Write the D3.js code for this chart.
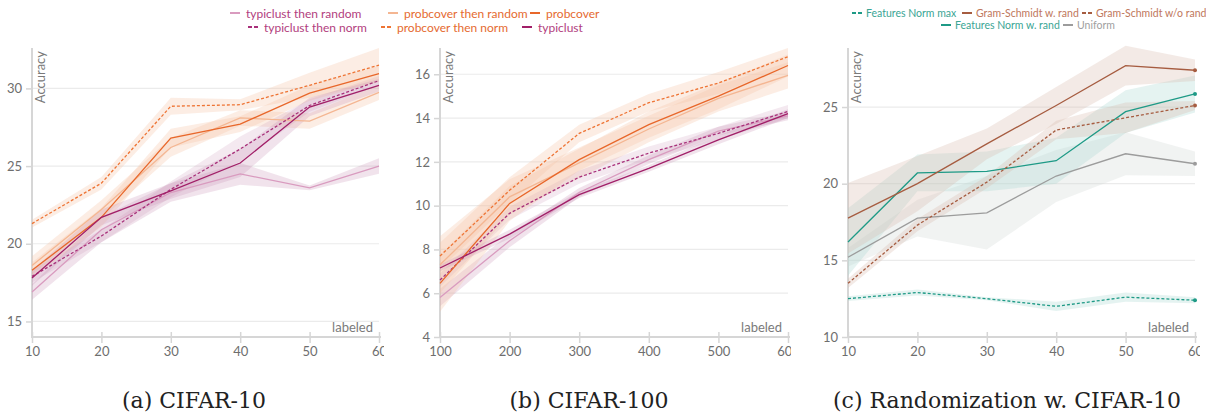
<!DOCTYPE html>
<html>
<head>
<meta charset="utf-8">
<script src="https://cdn.jsdelivr.net/npm/d3@7"></script>
<style>
  body { margin: 0; background: #fff; }
  text { font-family: Lato, "Open Sans", sans-serif; }
</style>
</head>
<body>
<div id="chart"></div>
<script>
// ---------------- data ----------------
var labeled10 = [10, 20, 30, 40, 50, 60];
var labeled100 = [100, 200, 300, 400, 500, 600];

// (a) CIFAR-10
var c10TypiclustRandom = [16.9, 20.9, 23.3, 24.5, 23.6, 25.0];
var c10TypiclustRandomStd = [0.5, 0.8, 0.6, 0.7, 0.15, 0.5];
var c10TypiclustNorm = [17.9, 20.5, 23.5, 26.1, 28.9, 30.5];
var c10TypiclustNormStd = [0.4, 0.4, 0.5, 0.8, 0.4, 0.3];
var c10ProbcoverRandom = [18.6, 22.2, 26.2, 28.1, 27.9, 29.75];
var c10ProbcoverRandomStd = [0.6, 0.6, 0.6, 0.5, 0.5, 0.5];
var c10ProbcoverNorm = [21.3, 23.9, 28.85, 28.95, 30.2, 31.5];
var c10ProbcoverNormStd = [0.25, 0.4, 0.55, 0.35, 0.8, 1.1];
var c10Probcover = [18.3, 21.7, 26.8, 27.7, 29.7, 30.95];
var c10ProbcoverStd = [0.5, 0.6, 0.6, 0.5, 0.5, 0.5];
var c10Typiclust = [17.8, 21.7, 23.4, 25.2, 28.8, 30.2];
var c10TypiclustStd = [0.5, 0.5, 0.5, 0.9, 0.6, 0.4];

// (b) CIFAR-100
var c100TypiclustRandom = [5.8, 8.4, 10.6, 12.1, 13.4, 14.1];
var c100TypiclustRandomStd = [0.4, 0.3, 0.2, 0.2, 0.2, 0.2];
var c100TypiclustNorm = [6.6, 9.65, 11.3, 12.4, 13.3, 14.3];
var c100TypiclustNormStd = [0.3, 0.3, 0.3, 0.3, 0.3, 0.3];
var c100ProbcoverRandom = [7.3, 10.4, 11.95, 13.5, 14.9, 15.95];
var c100ProbcoverRandomStd = [1.3, 0.8, 0.7, 0.6, 0.6, 0.6];
var c100ProbcoverNorm = [7.7, 10.7, 13.3, 14.7, 15.6, 16.8];
var c100ProbcoverNormStd = [0.6, 0.6, 0.4, 0.4, 0.5, 0.4];
var c100Probcover = [6.45, 10.1, 12.1, 13.7, 15.0, 16.4];
var c100ProbcoverStd = [1.3, 0.8, 0.5, 0.6, 0.6, 0.5];
var c100Typiclust = [7.15, 8.7, 10.5, 11.7, 13.0, 14.2];
var c100TypiclustStd = [0.15, 0.2, 0.15, 0.15, 0.2, 0.2];

// (c) Randomization w. CIFAR-10
var rndFeatNormMax = [12.5, 12.9, 12.5, 12.0, 12.6, 12.4];
var rndFeatNormMaxStd = [0.15, 0.2, 0.1, 0.3, 0.3, 0.2];
var rndGramRand = [17.75, 20.0, 22.6, 25.1, 27.7, 27.4];
var rndGramRandStd = [2.3, 1.8, 1.0, 1.2, 1.3, 0.7];
var rndGramNoRand = [13.5, 17.3, 20.1, 23.5, 24.3, 25.1];
var rndGramNoRandStd = [0.3, 0.4, 0.4, 0.6, 1.0, 0.3];
var rndFeatNormRand = [16.2, 20.7, 20.8, 21.5, 24.7, 25.85];
var rndFeatNormRandStd = [2.2, 1.2, 1.3, 1.5, 1.4, 1.2];
var rndUniform = [15.2, 17.75, 18.1, 20.5, 21.95, 21.3];
var rndUniformStd = [0.6, 1.2, 2.4, 1.7, 1.4, 0.8];

var captions = ["(a) CIFAR-10", "(b) CIFAR-100", "(c) Randomization w. CIFAR-10"];

// ---------------- styles ----------------
var magDark = "#a11f68", magNorm = "#a8307a", magLight = "#d99bbf";
var orDark = "#e8672a", orNorm = "#ee7434", orLight = "#f4b692";
var teal = "#1e9a86", brown = "#a65c40", grey = "#9c9c9c";

var svg = d3.select("#chart").append("svg")
    .attr("width", 1206)
    .attr("height", 415);

function translate(x, y) {
    return `translate(${x}, ${y})`;
}

function panel(opt) {
    var g = svg.append("g");
    var clipId = "clip" + opt.id;
    svg.append("defs").append("clipPath").attr("id", clipId)
        .append("rect")
        .attr("x", opt.left - 40).attr("y", 0)
        .attr("width", opt.clipRight - opt.left + 40).attr("height", 370);
    g.attr("clip-path", `url(#${clipId})`);

    var x = d3.scaleLinear().domain(opt.xDomain).range([opt.left, opt.right]);
    var y = d3.scaleLinear().domain(opt.yDomain).range([337, 48]);

    // grid
    g.append("g").selectAll("line")
        .data(opt.yTicks).enter().append("line")
        .attr("x1", opt.left).attr("x2", opt.right)
        .attr("y1", d => y(d)).attr("y2", d => y(d))
        .attr("stroke", "#ebebeb").attr("stroke-width", 1.2);

    // y axis
    var yAxis = d3.axisLeft(y).tickValues(opt.yTicks).tickSize(6).tickPadding(4);
    var ya = g.append("g").attr("transform", translate(opt.left, 0)).call(yAxis);
    ya.select(".domain").remove();
    ya.selectAll(".tick line").attr("stroke", "#d6d6d6").attr("stroke-width", 1.5);
    ya.selectAll(".tick text").attr("fill", "#6e6e6e").style("font-size", "13px")
        .style("font-family", "Lato, sans-serif");
    g.append("line")
        .attr("x1", opt.left).attr("x2", opt.left)
        .attr("y1", 48).attr("y2", 338)
        .attr("stroke", "#d6d6d6").attr("stroke-width", 2);

    // x axis
    var xAxis = d3.axisBottom(x).tickValues(opt.xTicks).tickSize(6).tickPadding(4);
    var xa = g.append("g").attr("transform", translate(0, 337)).call(xAxis);
    xa.select(".domain").remove();
    xa.selectAll(".tick line").attr("stroke", "#d6d6d6").attr("stroke-width", 1.5).attr("y1", -5);
    xa.selectAll(".tick text").attr("fill", "#6e6e6e").style("font-size", "13px")
        .style("font-family", "Lato, sans-serif");
    g.append("line")
        .attr("x1", opt.left - 1).attr("x2", opt.right + 2)
        .attr("y1", 337).attr("y2", 337)
        .attr("stroke", "#d6d6d6").attr("stroke-width", 2);

    // bands
    var area = d3.area()
        .x((d, i) => x(opt.xs[i]))
        .y0(d => y(d[0] - d[1]))
        .y1(d => y(d[0] + d[1]));
    var line = d3.line()
        .x((d, i) => x(opt.xs[i]))
        .y(d => y(d));

    opt.series.forEach(function (s) {
        g.append("path")
            .datum(s.values.map((v, i) => [v, s.std[i]]))
            .attr("d", area)
            .attr("fill", s.band)
            .attr("fill-opacity", s.bandOpacity);
    });
    opt.series.forEach(function (s) {
        g.append("path")
            .datum(s.values)
            .attr("d", line)
            .attr("fill", "none")
            .attr("stroke", s.color)
            .attr("stroke-width", 1.3)
            .attr("stroke-dasharray", s.dashed ? "3,2" : null);
        if (opt.endDots) {
            var n = s.values.length - 1;
            g.append("circle")
                .attr("cx", x(opt.xs[n])).attr("cy", y(s.values[n]))
                .attr("r", 2).attr("fill", s.color);
        }
    });

    // labels
    g.append("text")
        .attr("transform", translate(opt.left + 13, 51) + " rotate(-90)")
        .attr("text-anchor", "end")
        .attr("fill", "#7a7a7a")
        .style("font-size", "13px")
        .text("Accuracy");
    g.append("text")
        .attr("x", opt.right - 6).attr("y", 332)
        .attr("text-anchor", "end")
        .attr("fill", "#7a7a7a")
        .style("font-size", "13px")
        .text("labeled");

    // legend
    var lg = svg.append("g").selectAll("g")
        .data(opt.legend).enter().append("g")
        .attr("transform", d => translate(d.x, d.y));
    lg.append("line")
        .attr("x1", 0).attr("x2", 10).attr("y1", 0).attr("y2", 0)
        .attr("stroke", d => d.s.color)
        .attr("stroke-width", 2)
        .attr("stroke-dasharray", d => d.s.dashed ? "4,2" : null);
    lg.append("text")
        .attr("x", opt.legendGap).attr("y", 0)
        .attr("dominant-baseline", "central")
        .attr("fill", d => d.s.text)
        .style("font-size", opt.legendSize)
        .text(d => d.s.name);

    // caption
    svg.append("text")
        .attr("x", opt.captionX).attr("y", 408)
        .attr("text-anchor", "middle")
        .style("font-family", "'DejaVu Serif', serif")
        .style("font-size", "22px")
        .attr("fill", "#222")
        .text(opt.caption);
}

var tcText = "#b2407e", pcText = "#e56a30";
var magBand = "#c98fb5", orBand = "#f6c4a4";

function cifarSeries(d) {
    return {
        tr: { name: "typiclust then random", values: d[0], std: d[1], color: magLight, band: magBand, bandOpacity: 0.25, text: tcText },
        tn: { name: "typiclust then norm", values: d[2], std: d[3], color: magNorm, dashed: true, band: magBand, bandOpacity: 0.2, text: tcText },
        pr: { name: "probcover then random", values: d[4], std: d[5], color: orLight, band: orBand, bandOpacity: 0.3, text: pcText },
        pn: { name: "probcover then norm", values: d[6], std: d[7], color: orNorm, dashed: true, band: orBand, bandOpacity: 0.3, text: pcText },
        p: { name: "probcover", values: d[8], std: d[9], color: orDark, band: orBand, bandOpacity: 0.3, text: pcText },
        t: { name: "typiclust", values: d[10], std: d[11], color: magDark, band: magBand, bandOpacity: 0.25, text: tcText }
    };
}

var sa = cifarSeries([c10TypiclustRandom, c10TypiclustRandomStd, c10TypiclustNorm, c10TypiclustNormStd,
    c10ProbcoverRandom, c10ProbcoverRandomStd, c10ProbcoverNorm, c10ProbcoverNormStd,
    c10Probcover, c10ProbcoverStd, c10Typiclust, c10TypiclustStd]);
var sb = cifarSeries([c100TypiclustRandom, c100TypiclustRandomStd, c100TypiclustNorm, c100TypiclustNormStd,
    c100ProbcoverRandom, c100ProbcoverRandomStd, c100ProbcoverNorm, c100ProbcoverNormStd,
    c100Probcover, c100ProbcoverStd, c100Typiclust, c100TypiclustStd]);

panel({
    id: "a", left: 32, right: 379, clipRight: 384,
    xDomain: [10, 60], yDomain: [14, 32.6], xs: labeled10,
    xTicks: labeled10, yTicks: [15, 20, 25, 30],
    series: [sa.tr, sa.pr, sa.pn, sa.tn, sa.p, sa.t],
    legendSize: "12px", legendGap: 16,
    legend: [
        { s: sa.tr, x: 230, y: 13 }, { s: sa.pr, x: 388, y: 13 }, { s: sa.p, x: 530, y: 13 },
        { s: sa.tn, x: 248, y: 27 }, { s: sa.pn, x: 381, y: 27 }, { s: sa.t, x: 522, y: 27 }
    ],
    caption: captions[0], captionX: 194
});

panel({
    id: "b", left: 440, right: 788, clipRight: 791,
    xDomain: [100, 600], yDomain: [4, 17.2], xs: labeled100,
    xTicks: labeled100, yTicks: [4, 6, 8, 10, 12, 14, 16],
    series: [sb.tr, sb.pr, sb.pn, sb.tn, sb.p, sb.t],
    legend: [],
    caption: captions[1], captionX: 589
});

var sc = {
    fm: { name: "Features Norm max", values: rndFeatNormMax, std: rndFeatNormMaxStd, color: teal, dashed: true, band: "#a8d8cf", bandOpacity: 0.3, text: "#3aa594" },
    gr: { name: "Gram-Schmidt w. rand", values: rndGramRand, std: rndGramRandStd, color: brown, band: "#d7b9ad", bandOpacity: 0.3, text: "#c0775c" },
    gn: { name: "Gram-Schmidt w/o rand", values: rndGramNoRand, std: rndGramNoRandStd, color: brown, dashed: true, band: "#d7b9ad", bandOpacity: 0.3, text: "#c0775c" },
    fr: { name: "Features Norm w. rand", values: rndFeatNormRand, std: rndFeatNormRandStd, color: teal, band: "#a8d8cf", bandOpacity: 0.3, text: "#3aa594" },
    u: { name: "Uniform", values: rndUniform, std: rndUniformStd, color: grey, band: "#cfd6d4", bandOpacity: 0.3, text: "#a0a0a0" }
};

panel({
    id: "c", left: 848, right: 1195, clipRight: 1200,
    xDomain: [10, 60], yDomain: [10, 28.85], xs: labeled10,
    xTicks: labeled10, yTicks: [10, 15, 20, 25],
    series: [sc.u, sc.fr, sc.gn, sc.gr, sc.fm],
    endDots: true,
    legendSize: "10.5px", legendGap: 14,
    legend: [
        { s: sc.fm, x: 852, y: 13 }, { s: sc.gr, x: 962, y: 13 }, { s: sc.gn, x: 1082, y: 13 },
        { s: sc.fr, x: 941, y: 25 }, { s: sc.u, x: 1063, y: 25 }
    ],
    caption: captions[2], captionX: 1007
});
</script>
</body>
</html>
